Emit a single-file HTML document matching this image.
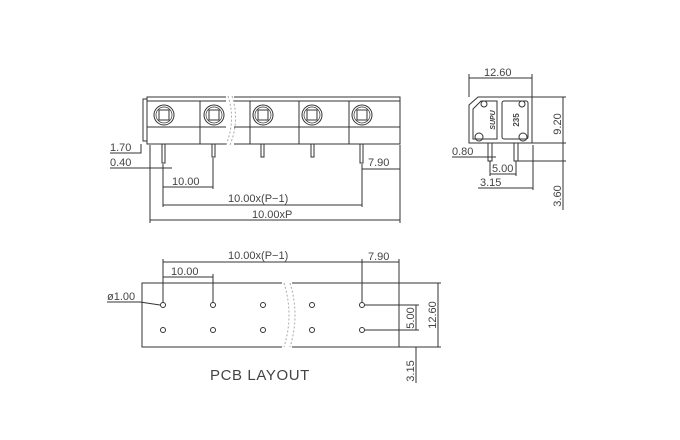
<!DOCTYPE html>
<html><head><meta charset="utf-8"><style>
html,body{margin:0;padding:0;background:#fff;}
svg{display:block;}
text{font-family:"Liberation Sans",sans-serif;fill:#444;}
</style></head><body>
<svg width="680" height="440" viewBox="0 0 680 440" xmlns="http://www.w3.org/2000/svg">
<g fill="none" stroke="#333" stroke-width="1">
<rect x="147" y="97" width="253" height="47" fill="#fff"/>
<line x1="147" y1="101" x2="400" y2="101"/>
<line x1="147" y1="127" x2="400" y2="127"/>
<path d="M147 99 H143 V141 H147"/>
<line x1="200" y1="101" x2="200" y2="144"/>
<line x1="250" y1="101" x2="250" y2="144"/>
<line x1="299" y1="101" x2="299" y2="144"/>
<line x1="349" y1="101" x2="349" y2="144"/>
<rect x="226" y="95" width="8" height="51" fill="#fff" stroke="none"/>
<path d="M228 96 Q236 120 226 145" stroke="#aaa" stroke-dasharray="2,2"/>
<path d="M232 96 Q240 120 230 145" stroke="#aaa" stroke-dasharray="2,2"/>
<g>
<circle cx="164" cy="115" r="10"/><circle cx="164" cy="115" r="8" stroke-width="0.7"/><rect x="159" y="110" width="10" height="10"/>
<circle cx="214" cy="115" r="10"/><circle cx="214" cy="115" r="8" stroke-width="0.7"/><rect x="209" y="110" width="10" height="10"/>
<circle cx="263" cy="115" r="10"/><circle cx="263" cy="115" r="8" stroke-width="0.7"/><rect x="258" y="110" width="10" height="10"/>
<circle cx="312" cy="115" r="10"/><circle cx="312" cy="115" r="8" stroke-width="0.7"/><rect x="307" y="110" width="10" height="10"/>
<circle cx="362" cy="115" r="10"/><circle cx="362" cy="115" r="8" stroke-width="0.7"/><rect x="357" y="110" width="10" height="10"/>
</g>
<rect x="162" y="144" width="3" height="19"/>
<rect x="212" y="144" width="3" height="13"/>
<rect x="261" y="144" width="3" height="13"/>
<rect x="311" y="144" width="3" height="13"/>
<rect x="360" y="144" width="3" height="19"/>
<path d="M110 153 H141 V144"/>
<path d="M110 168 H172"/>
<line x1="150" y1="145" x2="150" y2="223"/>
<line x1="400" y1="145" x2="400" y2="223"/>
<line x1="163" y1="164" x2="163" y2="207"/>
<line x1="213" y1="158" x2="213" y2="189"/>
<line x1="362" y1="164" x2="362" y2="207"/>
<line x1="163" y1="187" x2="213" y2="187"/>
<line x1="163" y1="205" x2="362" y2="205"/>
<line x1="150" y1="220" x2="400" y2="220"/>
<line x1="362" y1="169" x2="400" y2="169"/>
<path d="M469 105 L478 97 H532 V143 H469 Z" fill="#fff"/>
<path d="M473 109 L481 101 H497 V139 H473 Z"/>
<rect x="502" y="101" width="26" height="38" rx="2"/>
<circle cx="484" cy="104" r="3"/><circle cx="522" cy="104" r="3"/>
<circle cx="479" cy="137" r="4"/><circle cx="523" cy="137" r="4"/>
<rect x="488" y="143" width="4" height="18"/><rect x="514" y="143" width="4" height="18"/>
<line x1="469" y1="78" x2="532" y2="78"/>
<line x1="469" y1="74" x2="469" y2="97"/><line x1="532" y1="74" x2="532" y2="97"/>
<line x1="532" y1="97" x2="566" y2="97"/>
<line x1="532" y1="143" x2="566" y2="143"/>
<line x1="518" y1="161" x2="566" y2="161"/>
<line x1="563" y1="97" x2="563" y2="210"/>
<line x1="533" y1="145" x2="533" y2="190"/>
<line x1="452" y1="157" x2="496" y2="157"/>
<line x1="490" y1="161" x2="490" y2="176"/>
<line x1="516" y1="161" x2="516" y2="176"/>
<line x1="490" y1="174" x2="516" y2="174"/>
<line x1="478" y1="188" x2="533" y2="188"/>
<rect x="142" y="283" width="257" height="64"/>
<rect x="282" y="281" width="10" height="68" fill="#fff" stroke="none"/>
<path d="M284 283 Q294 315 284 347" stroke="#aaa" stroke-dasharray="2,2"/>
<path d="M290 283 Q300 315 290 347" stroke="#aaa" stroke-dasharray="2,2"/>
<g>
<circle cx="163" cy="305" r="2.5"/><circle cx="213" cy="305" r="2.5"/><circle cx="263" cy="305" r="2.5"/><circle cx="312" cy="305" r="2.5"/><circle cx="362" cy="305" r="2.5"/>
<circle cx="163" cy="330" r="2.5"/><circle cx="213" cy="330" r="2.5"/><circle cx="263" cy="330" r="2.5"/><circle cx="312" cy="330" r="2.5"/><circle cx="362" cy="330" r="2.5"/>
</g>
<line x1="163" y1="259" x2="163" y2="303"/>
<line x1="213" y1="274" x2="213" y2="303"/>
<line x1="362" y1="259" x2="362" y2="303"/>
<line x1="399" y1="259" x2="399" y2="283"/>
<line x1="163" y1="262" x2="362" y2="262"/>
<line x1="362" y1="262" x2="399" y2="262"/>
<line x1="163" y1="277" x2="213" y2="277"/>
<path d="M107 302 H140 L160 305"/>
<line x1="365" y1="305" x2="419" y2="305"/>
<line x1="365" y1="330" x2="419" y2="330"/>
<line x1="416" y1="305" x2="416" y2="330"/>
<line x1="399" y1="283" x2="441" y2="283"/>
<line x1="399" y1="347" x2="441" y2="347"/>
<line x1="438" y1="283" x2="438" y2="347"/>
<line x1="416" y1="347" x2="416" y2="383"/>
</g>
<g font-size="11">
<text x="110" y="151">1.70</text>
<text x="110" y="166">0.40</text>
<text x="172" y="185">10.00</text>
<text x="228" y="202">10.00x(P−1)</text>
<text x="252" y="218">10.00xP</text>
<text x="368" y="166">7.90</text>
<text x="484" y="76">12.60</text>
<text x="452" y="155">0.80</text>
<text x="492" y="172">5.00</text>
<text x="480" y="186">3.15</text>
<text transform="translate(561,124) rotate(-90)" text-anchor="middle">9.20</text>
<text transform="translate(561,196) rotate(-90)" text-anchor="middle">3.60</text>
<text x="228" y="259">10.00x(P−1)</text>
<text x="368" y="260">7.90</text>
<text x="171" y="275">10.00</text>
<text x="107" y="300">ø1.00</text>
<text transform="translate(414,318) rotate(-90)" text-anchor="middle">5.00</text>
<text transform="translate(436,315) rotate(-90)" text-anchor="middle">12.60</text>
<text transform="translate(414,371) rotate(-90)" text-anchor="middle">3.15</text>
</g>
<text transform="translate(495,120) rotate(-90)" text-anchor="middle" font-size="7" font-weight="bold" font-style="italic">SUPU</text>
<text transform="translate(519,120) rotate(-90)" text-anchor="middle" font-size="8" font-weight="bold">235</text>
<text x="210" y="380" font-size="15" letter-spacing="0.6">PCB LAYOUT</text>
</svg>
</body></html>
